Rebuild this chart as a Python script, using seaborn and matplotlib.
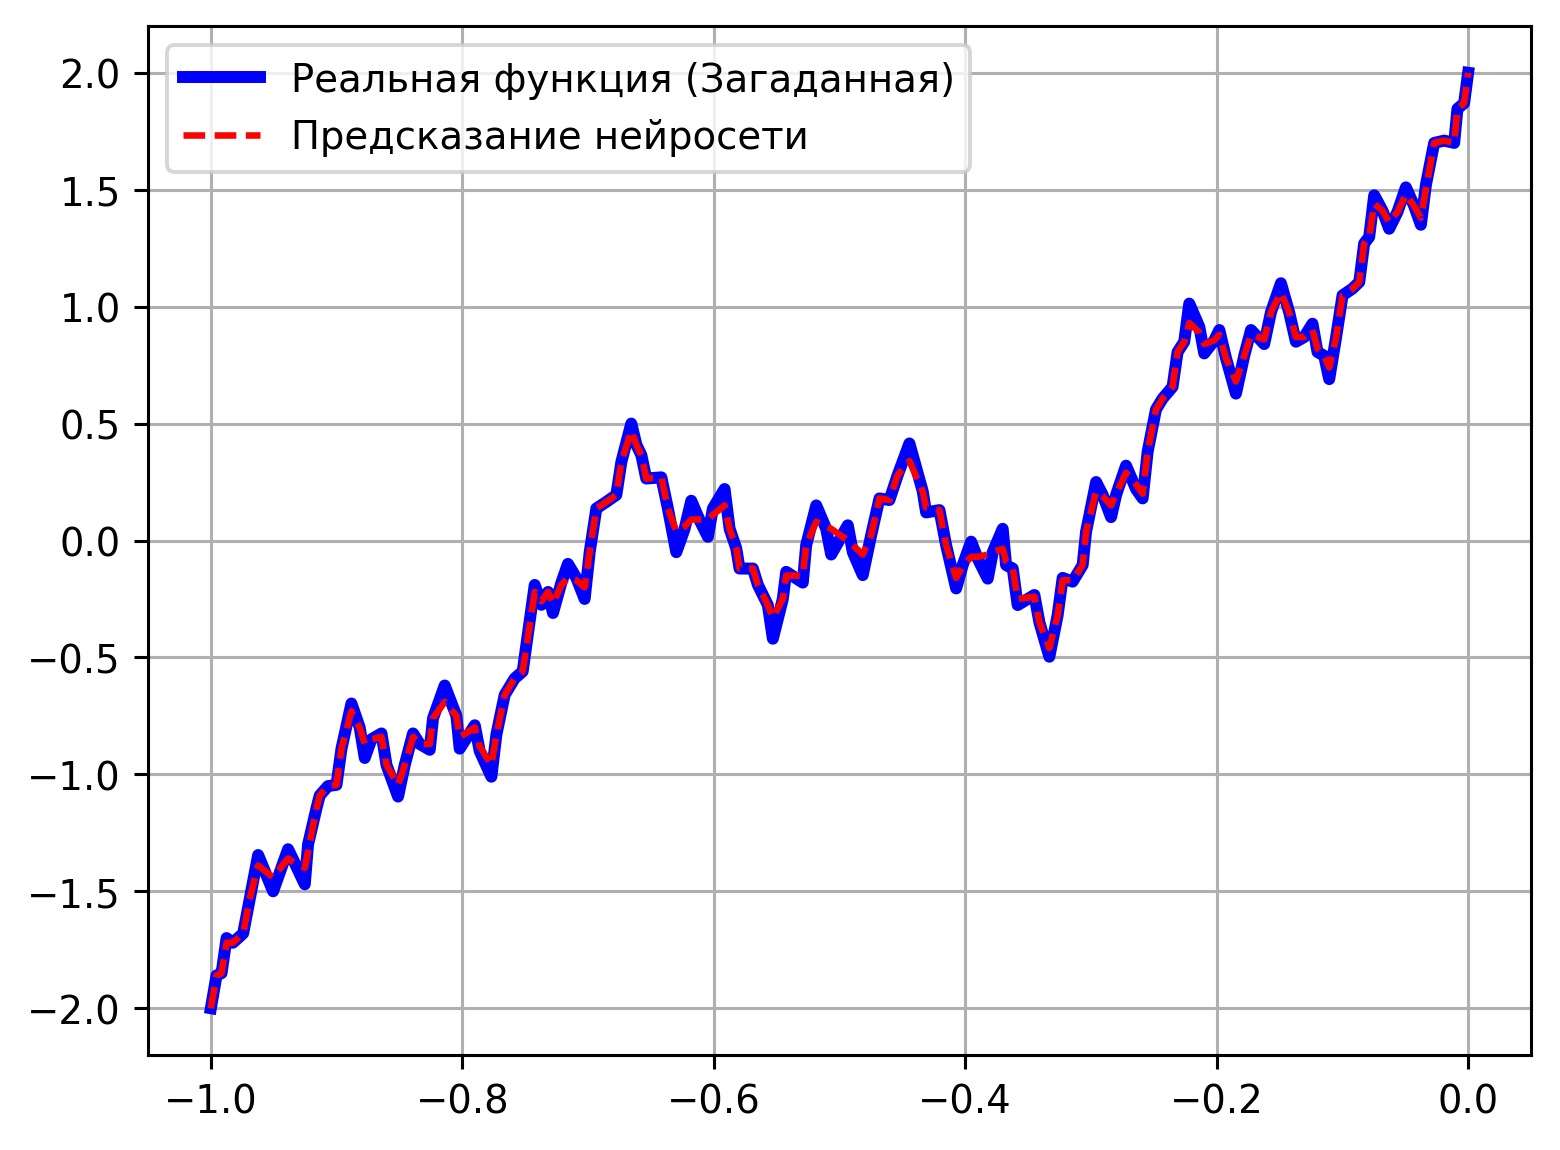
import matplotlib
matplotlib.use("Agg")
import matplotlib.pyplot as plt
import seaborn as sb

# x positions of the traced points
x_vals = [
    -1.000, -0.9955, -0.9915, -0.9875, -0.9825, -0.9743, -0.9690, -0.9624,
    -0.9505, -0.9386, -0.9332, -0.9253, -0.9227, -0.9160, -0.9134, -0.9068,
    -0.9001, -0.8961, -0.8882, -0.8816, -0.8776, -0.8723, -0.8643, -0.8603,
    -0.8511, -0.8458, -0.8392, -0.8339, -0.8259, -0.8233, -0.8140, -0.8047,
    -0.8021, -0.7901, -0.7862, -0.7769, -0.7729, -0.7663, -0.7584, -0.7520,
    -0.7424, -0.7371, -0.7318, -0.7279, -0.7212, -0.7160, -0.7093, -0.7027,
    -0.6987, -0.6934, -0.6855, -0.6775, -0.6735, -0.6656, -0.6616, -0.6576,
    -0.6537, -0.6417, -0.6365, -0.6298, -0.6232, -0.6179, -0.6113, -0.6047,
    -0.6007, -0.5914, -0.5874, -0.5821, -0.5795, -0.5689, -0.5649, -0.5570,
    -0.5530, -0.5451, -0.5424, -0.5292, -0.5265, -0.5185, -0.5106, -0.5066,
    -0.4934, -0.4894, -0.4815, -0.4748, -0.4682, -0.4603, -0.4537, -0.4444,
    -0.4338, -0.4311, -0.4205, -0.4152, -0.4072, -0.4020, -0.3953, -0.3901,
    -0.3821, -0.3781, -0.3702, -0.3675, -0.3622, -0.3583, -0.3450, -0.3410,
    -0.3331, -0.3265, -0.3225, -0.3146, -0.3066, -0.3039, -0.2959, -0.2907,
    -0.2840, -0.2800, -0.2721, -0.2641, -0.2589, -0.2549, -0.2483, -0.2430,
    -0.2351, -0.2311, -0.2258, -0.2218, -0.2138, -0.2099, -0.2019, -0.1979,
    -0.1926, -0.1847, -0.1781, -0.1727, -0.1622, -0.1568, -0.1489, -0.1423,
    -0.1370, -0.1304, -0.1238, -0.1198, -0.1145, -0.1105, -0.1052, -0.0999,
    -0.0920, -0.0866, -0.0827, -0.0787, -0.0747, -0.0681, -0.0628, -0.0562,
    -0.0495, -0.0429, -0.0376, -0.0336, -0.0270, -0.0191, -0.0111, -0.0085,
    -0.0032, 0.000,
]

# real (hidden) function
real_vals = [
    -2.00, -1.86, -1.85, -1.70, -1.72, -1.68, -1.53, -1.345,
    -1.50, -1.32, -1.38, -1.47, -1.30, -1.145, -1.09, -1.05,
    -1.045, -0.89, -0.697, -0.80, -0.93, -0.85, -0.825, -0.96,
    -1.095, -0.96, -0.825, -0.87, -0.895, -0.76, -0.62, -0.75,
    -0.89, -0.79, -0.90, -1.01, -0.83, -0.66, -0.59, -0.56,
    -0.19, -0.275, -0.22, -0.31, -0.18, -0.10, -0.16, -0.25,
    -0.05, 0.137, 0.165, 0.195, 0.336, 0.50, 0.41, 0.365,
    0.265, 0.27, 0.137, -0.05, 0.05, 0.17, 0.087, 0.016,
    0.137, 0.22, 0.05, -0.034, -0.12, -0.12, -0.19, -0.276,
    -0.42, -0.25, -0.134, -0.18, -0.02, 0.15, 0.05, -0.06,
    0.065, -0.05, -0.148, 0.023, 0.18, 0.173, 0.28, 0.415,
    0.21, 0.12, 0.13, -0.02, -0.205, -0.105, -0.005, -0.077,
    -0.163, -0.05, 0.05, -0.105, -0.12, -0.276, -0.233, -0.35,
    -0.497, -0.32, -0.16, -0.176, -0.105, 0.037, 0.25, 0.195,
    0.10, 0.195, 0.32, 0.22, 0.18, 0.38, 0.56, 0.607,
    0.657, 0.806, 0.85, 1.013, 0.913, 0.80, 0.856, 0.90,
    0.78, 0.628, 0.79, 0.90, 0.84, 0.977, 1.10, 0.975,
    0.85, 0.87, 0.927, 0.806, 0.79, 0.69, 0.863, 1.048,
    1.077, 1.105, 1.27, 1.298, 1.476, 1.41, 1.333, 1.405,
    1.51, 1.43, 1.35, 1.52, 1.70, 1.71, 1.70, 1.846,
    1.87, 2.00,
]

# network prediction (smoother, spikes cut)
pred_vals = [
    -2.00, -1.86, -1.85, -1.72, -1.72, -1.68, -1.53, -1.39,
    -1.44, -1.36, -1.38, -1.40, -1.33, -1.145, -1.09, -1.05,
    -1.045, -0.89, -0.73, -0.80, -0.87, -0.85, -0.84, -0.96,
    -1.045, -0.96, -0.84, -0.87, -0.87, -0.76, -0.69, -0.75,
    -0.84, -0.80, -0.88, -0.96, -0.83, -0.66, -0.59, -0.56,
    -0.22, -0.26, -0.22, -0.27, -0.19, -0.16, -0.17, -0.20,
    -0.05, 0.137, 0.165, 0.195, 0.336, 0.47, 0.41, 0.365,
    0.265, 0.27, 0.137, 0.04, 0.06, 0.09, 0.09, 0.09,
    0.11, 0.15, 0.05, -0.034, -0.12, -0.12, -0.19, -0.276,
    -0.33, -0.25, -0.15, -0.15, -0.02, 0.08, 0.06, 0.05,
    0.00, -0.02, -0.06, 0.023, 0.18, 0.173, 0.28, 0.34,
    0.21, 0.14, 0.13, -0.02, -0.16, -0.11, -0.07, -0.07,
    -0.06, -0.05, -0.035, -0.09, -0.12, -0.25, -0.24, -0.35,
    -0.46, -0.32, -0.17, -0.17, -0.105, 0.037, 0.21, 0.19,
    0.15, 0.20, 0.29, 0.24, 0.20, 0.38, 0.56, 0.607,
    0.657, 0.806, 0.85, 0.93, 0.89, 0.84, 0.856, 0.88,
    0.78, 0.68, 0.79, 0.88, 0.86, 0.977, 1.06, 0.975,
    0.87, 0.87, 0.90, 0.82, 0.79, 0.74, 0.863, 1.048,
    1.077, 1.105, 1.27, 1.298, 1.44, 1.41, 1.36, 1.405,
    1.48, 1.43, 1.38, 1.50, 1.70, 1.71, 1.70, 1.846,
    1.87, 2.00,
]

labels = ["Реальная функция (Загаданная)", "Предсказание нейросети"]

DPI = 278
fig = plt.figure(figsize=(1560 / DPI, 1151 / DPI), dpi=DPI)
ax = fig.add_axes([148 / 1560, 1 - 1056 / 1151, (1531 - 148) / 1560, (1056 - 27) / 1151])

sb.lineplot(x=x_vals, y=real_vals, ax=ax, color="blue", linewidth=3.1,
            estimator=None, label=labels[0])
sb.lineplot(x=x_vals, y=pred_vals, ax=ax, color="red", linewidth=1.7,
            estimator=None, label=labels[1])
ax.lines[1].set_dashes((3.3, 1.45))

ax.grid(True)
ax.legend(loc="upper left")

fig.savefig("out.png", dpi=DPI)
